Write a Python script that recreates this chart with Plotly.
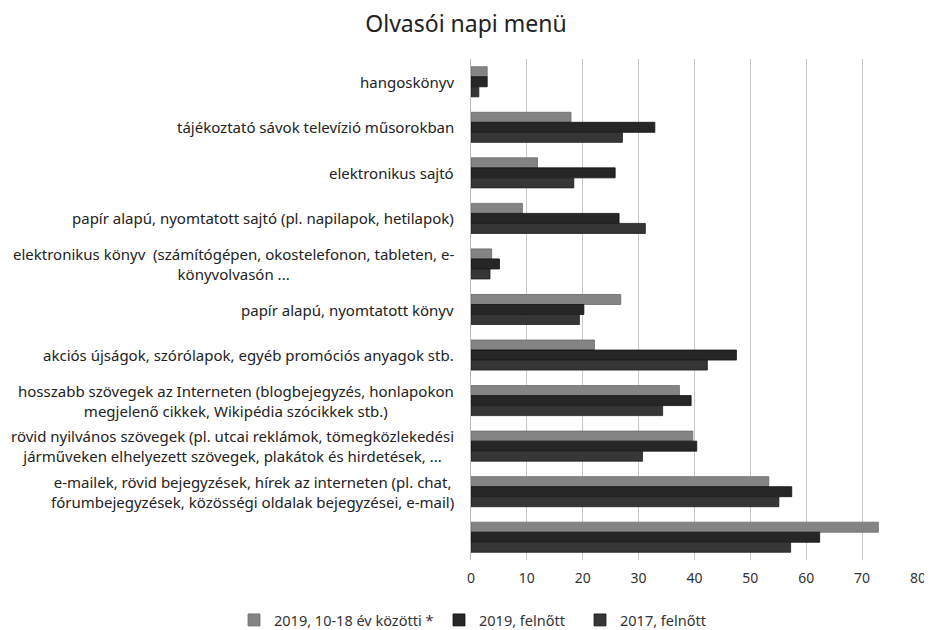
import plotly.graph_objects as go

categories = [
    "hangoskönyv",
    "tájékoztató sávok televízió műsorokban",
    "elektronikus sajtó",
    "papír alapú, nyomtatott sajtó (pl. napilapok, hetilapok)",
    "elektronikus könyv  (számítógépen, okostelefonon, tableten, e-<br>könyvolvasón ...",
    "papír alapú, nyomtatott könyv",
    "akciós újságok, szórólapok, egyéb promóciós anyagok stb.",
    "hosszabb szövegek az Interneten (blogbejegyzés, honlapokon<br>megjelenő cikkek, Wikipédia szócikkek stb.)",
    "rövid nyilvános szövegek (pl. utcai reklámok, tömegközlekedési<br>járműveken elhelyezett szövegek, plakátok és hirdetések, ...",
    "e-mailek, rövid bejegyzések, hírek az interneten (pl. chat,<br>fórumbejegyzések, közösségi oldalak bejegyzései, e-mail)",
    " ",
]

series_names = ["2019, 10-18 év közötti *", "2019, felnőtt", "2017, felnőtt"]

youth_2019 = [2.9, 17.9, 11.9, 9.2, 3.7, 26.8, 22.1, 37.3, 39.7, 53.3, 72.9]
adult_2019 = [2.9, 32.9, 25.8, 26.5, 5.1, 20.2, 47.5, 39.4, 40.4, 57.4, 62.4]
adult_2017 = [1.4, 27.1, 18.4, 31.2, 3.4, 19.4, 42.3, 34.3, 30.7, 55.1, 57.2]

x_ticks = [0, 10, 20, 30, 40, 50, 60, 70, 80]

colors = ["#848484", "#262626", "#363636"]
line_colors = ["#6a6a6a", "#111111", "#1e1e1e"]

FONT = "Noto Sans"
W, H = 924, 622  # page body has an 8px margin in the viewer

legend_ids = ["legend", "legend2", "legend3"]
legend_left = [226, 431, 572]  # figure px

fig = go.Figure()
for name, vals, c, lc, lid in zip(series_names, [youth_2019, adult_2019, adult_2017],
                                  colors, line_colors, legend_ids):
    fig.add_trace(go.Bar(
        y=categories, x=vals, name=name, orientation="h", legend=lid,
        marker=dict(color=c, line=dict(color=lc, width=0.8)),
    ))

# category labels: right-anchored, lines centred (as in the reference)
for cat in categories:
    fig.add_annotation(
        x=0, xref="paper", y=cat, yref="y", text=cat, showarrow=False,
        xanchor="right", yanchor="middle", align="center", xshift=-15,
        font=dict(family=FONT, size=15, color="#222222"),
    )

legends = {}
for lid, lx in zip(legend_ids, legend_left):
    legends[lid] = dict(orientation="h", x=lx / W, xref="container", xanchor="left",
                        y=1 - 612 / H, yref="container", yanchor="middle",
                        font=dict(family=FONT, size=14.5, color="#333333"), itemwidth=30,
                        bgcolor="rgba(0,0,0,0)")

fig.update_layout(
    width=W, height=H,
    paper_bgcolor="white", plot_bgcolor="white",
    margin=dict(l=463, r=14, t=51, b=70, autoexpand=False),
    barmode="group", bargap=0.34, bargroupgap=0,
    title=dict(text="Olvasói napi menü", x=458 / W, xref="container", xanchor="center",
               y=1 - 16 / H, yref="container", yanchor="middle",
               font=dict(family=FONT, size=23, color="#222222")),
    font=dict(family=FONT, color="#333333", size=14),
    showlegend=True,
    **legends,
)
fig.update_xaxes(range=[0, 80], tickvals=x_ticks, showgrid=True, gridcolor="#c8c8c8",
                 gridwidth=1, zeroline=False, showline=False, automargin=False,
                 tickfont=dict(size=14, color="#333333"), ticklabelstandoff=8)
fig.update_yaxes(autorange="reversed", showgrid=False, showline=True, linecolor="#bbbbbb",
                 showticklabels=False, automargin=False)

fig.write_html("out.html")
